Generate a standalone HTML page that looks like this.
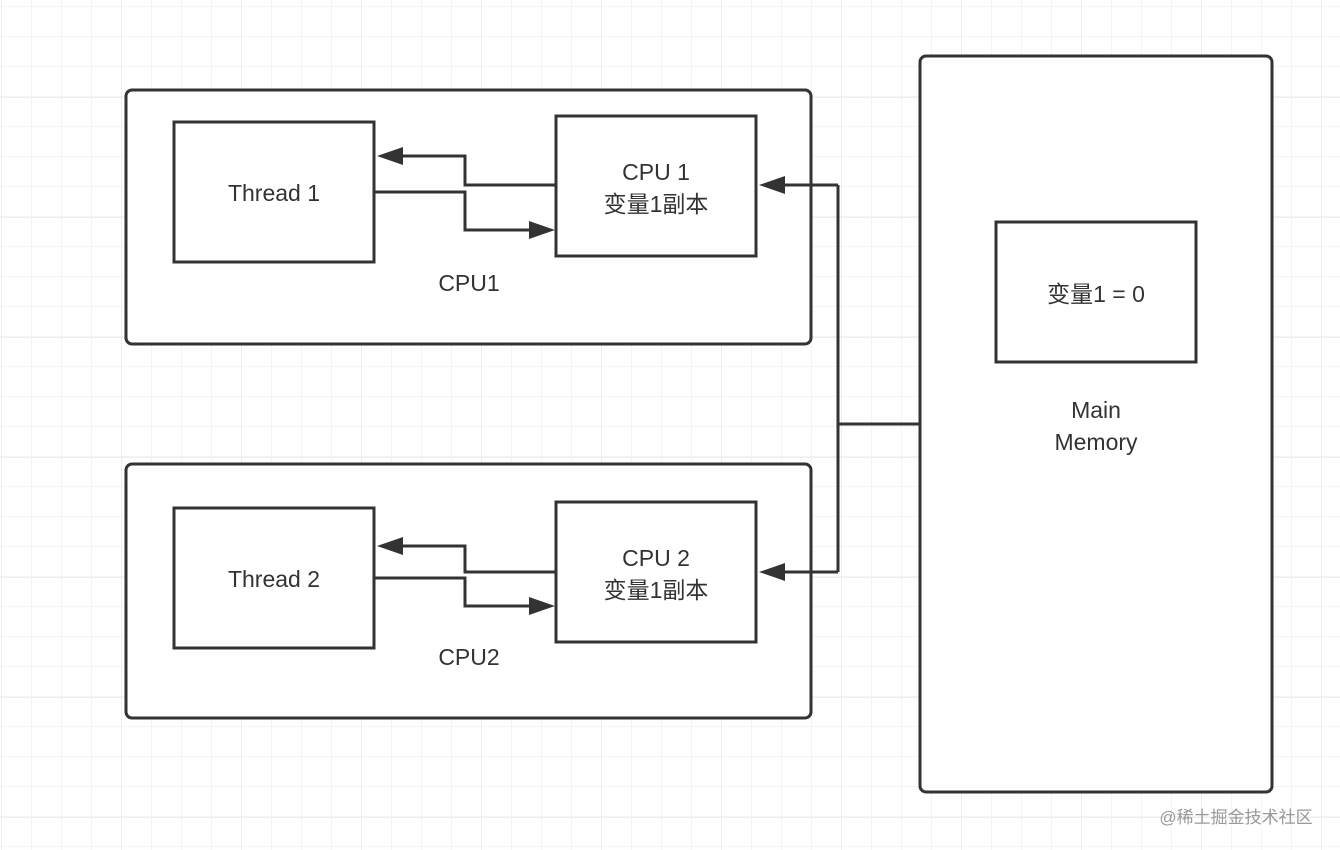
<!DOCTYPE html>
<html><head><meta charset="utf-8"><style>
html,body{margin:0;padding:0;background:#fff;}
svg{display:block;}
text{font-family:"Liberation Sans","Noto Sans CJK SC",sans-serif;fill:#333;font-size:23px;}
</style></head><body>
<svg width="1340" height="850" viewBox="0 0 1340 850" xmlns="http://www.w3.org/2000/svg">
<defs>
<pattern id="g" x="1" y="6" width="30" height="30" patternUnits="userSpaceOnUse">
<path d="M0 0H30M0 0V30" stroke="#f4f4f4" stroke-width="2" fill="none"/>
</pattern>
<pattern id="G" x="1" y="-23" width="120" height="120" patternUnits="userSpaceOnUse">
<path d="M0 0H120M0 0V120" stroke="#eeeeee" stroke-width="2" fill="none"/>
</pattern>
</defs>
<rect width="1340" height="850" fill="url(#g)"/>
<rect width="1340" height="850" fill="url(#G)"/>
<g stroke="#333" stroke-width="3" fill="#fff">
<rect x="126" y="90" width="685" height="254" rx="6"/>
<rect x="126" y="464" width="685" height="254" rx="6"/>
<rect x="920" y="56" width="352" height="736" rx="6"/>
<rect x="174" y="122" width="200" height="140"/>
<rect x="556" y="116" width="200" height="140"/>
<rect x="174" y="508" width="200" height="140"/>
<rect x="556" y="502" width="200" height="140"/>
<rect x="996" y="222" width="200" height="140"/>
</g>
<g stroke="#333" stroke-width="3" fill="none">
<path d="M556 185H465V156H395"/>
<path d="M374 192H465V230H536"/>
<path d="M556 572H465V546H395"/>
<path d="M374 578H465V606H536"/>
<path d="M920 424H838M838 185V572M838 185H778M838 572H778"/>
</g>
<g fill="#333">
<path d="M377 156L403 147V165Z"/>
<path d="M555 230L529 221V239Z"/>
<path d="M377 546L403 537V555Z"/>
<path d="M555 606L529 597V615Z"/>
<path d="M759 185L785 176V194Z"/>
<path d="M759 572L785 563V581Z"/>
</g>
<g text-anchor="middle">
<text x="274" y="201">Thread 1</text>
<text x="656" y="180">CPU 1</text>
<text x="656" y="212">变量1副本</text>
<text x="469" y="291">CPU1</text>
<text x="274" y="587">Thread 2</text>
<text x="656" y="566">CPU 2</text>
<text x="656" y="598">变量1副本</text>
<text x="469" y="665">CPU2</text>
<text x="1096" y="302">变量1 = 0</text>
<text x="1096" y="418">Main</text>
<text x="1096" y="450">Memory</text>
<text x="1236" y="823" style="font-size:17px;fill:#999">@稀土掘金技术社区</text>
</g>
</svg>
</body></html>
